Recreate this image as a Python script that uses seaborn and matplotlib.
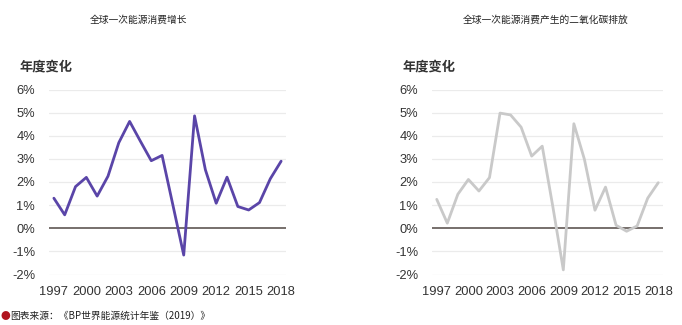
import numpy as np
import pandas as pd
import matplotlib
matplotlib.use("Agg")
import matplotlib.pyplot as plt
import seaborn as sns

years = list(range(1997, 2019))
energy_growth = [1.30, 0.58, 1.80, 2.20, 1.39, 2.25, 3.70, 4.62, 3.76, 2.92, 3.15,
                 1.00, -1.16, 4.86, 2.53, 1.08, 2.21, 0.94, 0.79, 1.11, 2.14, 2.90]
co2_growth = [1.25, 0.22, 1.47, 2.11, 1.61, 2.19, 4.98, 4.90, 4.37, 3.12, 3.55,
              0.95, -1.80, 4.52, 2.98, 0.78, 1.78, 0.13, -0.13, 0.10, 1.30, 1.97]
xticks = [1997, 2000, 2003, 2006, 2009, 2012, 2015, 2018]
yticks = [-2, -1, 0, 1, 2, 3, 4, 5, 6]
titles = ["全球一次能源消费增长", "全球一次能源消费产生的二氧化碳排放"]
ylabel_text = "年度变化"
source_text = "图表来源：《BP世界能源统计年鉴（2019）》"

sns.set_theme(style="white")
plt.rcParams['font.family'] = ['Noto Sans CJK SC', 'DejaVu Sans']

W, H = 682, 325
fig = plt.figure(figsize=(W / 100, H / 100), dpi=100)

df = pd.DataFrame({"year": years, "energy": energy_growth, "co2": co2_growth})

panels = [
    dict(col="energy", color="#5a45a8", x0=49, x1=286, title_x=138, ylab_x=20),
    dict(col="co2", color="#c9c9c9", x0=432, x1=663, title_x=546, ylab_x=403),
]
top_px, bot_px = 89.5, 274.5

for i, p in enumerate(panels):
    ax = fig.add_axes([p["x0"] / W, 1 - bot_px / H, (p["x1"] - p["x0"]) / W, (bot_px - top_px) / H])
    for yv in yticks:
        if yv != 0:
            ax.axhline(yv, color="#ebebeb", lw=0.9, zorder=0)
    ax.axhline(0, color="#6b6360", lw=1.3, zorder=1)
    sns.lineplot(data=df, x="year", y=p["col"], ax=ax, color=p["color"], lw=2.0, zorder=3)
    ax.set_xlim(1996.55, 2018.45)
    ax.set_ylim(-2, 6)
    ax.set_xticks(xticks)
    ax.set_xticklabels([str(x) for x in xticks], fontsize=9.3, color="#333333",
                       family=['Liberation Sans', 'DejaVu Sans'])
    ax.set_yticks(yticks)
    ax.set_yticklabels([f"{y}%" for y in yticks], fontsize=9.3, color="#333333",
                       family=['Liberation Sans', 'DejaVu Sans'])
    ax.tick_params(axis="both", length=0)
    ax.tick_params(axis="x", pad=8)
    ax.tick_params(axis="y", pad=10)
    ax.set_xlabel("")
    ax.set_ylabel("")
    for s in ax.spines.values():
        s.set_visible(False)
    fig.text(p["title_x"] / W, 1 - 20 / H, titles[i], ha="center", va="center", fontsize=7, color="#222222")
    fig.text(p["ylab_x"] / W, 1 - 66 / H, ylabel_text, ha="left", va="center", fontsize=9.5,
             fontweight="bold", color="#333333")

fig.text(5 / W, 1 - 316 / H, "●", ha="center", va="center", fontsize=7, color="#b0141e")
fig.text(10 / W, 1 - 316 / H, source_text, ha="left", va="center", fontsize=7, color="#222222")

fig.savefig("out.png", dpi=100)
